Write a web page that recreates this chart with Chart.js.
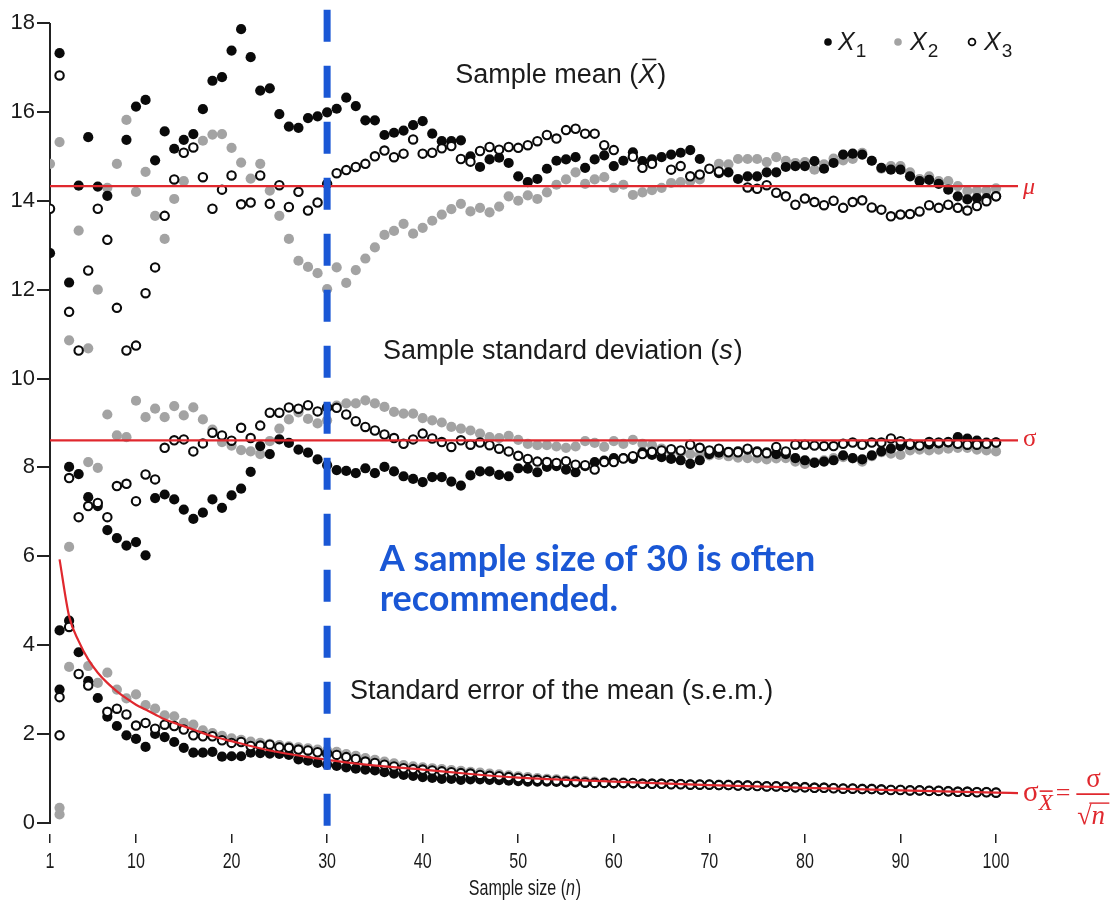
<!DOCTYPE html>
<html lang="en">
<head>
<meta charset="UTF-8">
<title>Sample mean, standard deviation and s.e.m. versus sample size</title>
<script src="https://cdn.jsdelivr.net/npm/chart.js@4.4.1/dist/chart.umd.min.js"></script>
<style>
  body { margin: 0; background: #fff; }
  canvas { display: block; }
</style>
</head>
<body>
<canvas id="chart" width="1116" height="904"></canvas>
<script>
// sample sizes on the x axis
const sampleSizes = Array.from({ length: 100 }, (_, i) => i + 1);
const xTickValues = [1, 10, 20, 30, 40, 50, 60, 70, 80, 90, 100];
const yTickValues = [0, 2, 4, 6, 8, 10, 12, 14, 16, 18];

// running sample mean for the three samples (null = marker hidden behind another)
const meanX1 = [
  12.82, 17.32, 12.16, 14.34, 15.43, 14.32, 14.11, null, 15.37, 16.12,
  16.27, 14.91, 15.56, 15.17, 15.37, 15.5, 16.06, 16.7, 16.78, 17.38,
  17.86, 17.23, 16.48, 16.53, 15.95, 15.67, 15.64, 15.86, 15.9, 15.99,
  16.07, 16.32, 16.13, 15.81, 15.81, 15.48, 15.53, 15.58, 15.7, 15.79,
  15.51, 15.34, 15.34, 15.36, 15.0, 14.76, 14.93, 14.97, 14.85, 14.55,
  14.42, 14.49, 14.72, 14.9, 14.93, 14.98, 14.74, 14.93, 15.02, 14.78,
  14.9, 15.09, 14.89, 14.93, 14.98, 15.04, 15.08, 15.14, 14.94, null,
  14.62, 14.64, 14.49, 14.55, 14.55, 14.64, 14.64, 14.76, 14.78, 14.78,
  14.89, 14.72, 14.85, 15.04, 15.06, 15.04, 14.9, 14.74, 14.7, 14.7,
  14.55, 14.44, 14.47, 14.38, 14.25, 14.1, 14.03, 14.06, 14.06, 14.1
];
const meanX2 = [
  14.83, 15.32, 10.86, 13.33, 10.68, 12.0, 14.29, 14.83, 15.82, 14.2,
  14.65, 13.66, 13.14, 14.04, 14.44, null, 15.35, 15.49, 15.5, 15.19,
  14.86, 14.5, 14.83, 14.23, 13.66, 13.14, 12.65, 12.51, 12.37, 12.01,
  12.5, 12.15, 12.44, 12.7, 12.95, 13.23, 13.32, 13.48, 13.26, 13.39,
  13.55, 13.69, 13.81, 13.93, 13.76, 13.84, 13.74, 13.87, 14.1, 14.0,
  14.12, 14.04, 14.19, 14.36, 14.48, 14.64, 14.38, 14.48, 14.53, 14.29,
  14.36, 14.13, 14.19, 14.24, 14.29, 14.4, 14.42, 14.44, 14.48, null,
  14.83, 14.82, 14.94, 14.94, 14.94, 14.87, 14.98, 14.9, 14.85, 14.87,
  14.7, 14.82, 14.95, 14.91, 14.94, 15.08, 14.9, 14.72, 14.78, 14.78,
  14.64, 14.49, 14.55, 14.44, 14.44, 14.33, 14.22, 14.23, 14.23, 14.28
];
const meanX3 = [
  13.82, 16.82, 11.5, 10.63, 12.43, 13.82, 13.12, 11.59, 10.63, 10.74,
  11.92, 12.5, 13.66, 14.48, 15.08, 15.2, 14.53, 13.82, 14.25, 14.57,
  13.92, 13.96, 14.57, 13.93, 14.35, 13.86, 14.2, 13.78, 13.96, 14.38,
  14.62, 14.69, 14.76, 14.83, 15.0, 15.13, 14.98, 15.06, 15.38, 15.06,
  15.08, 15.18, 15.23, 14.94, 14.88, 15.12, 15.21, 15.15, 15.21, 15.19,
  15.25, 15.34, 15.48, 15.4, 15.59, 15.62, 15.51, 15.51, 15.25, 15.14,
  null, 14.99, 14.74, 14.83, null, 14.7, 14.78, 14.55, 14.59, 14.72,
  14.66, null, null, 14.3, 14.27, 14.35, 14.18, 14.1, 13.91, 14.05,
  13.97, 13.9, 14.0, 13.84, 13.97, 14.01, 13.85, 13.8, 13.65, 13.69,
  13.7, 13.76, 13.9, 13.84, 13.91, 13.84, 13.78, 13.88, 13.99, 14.1
];

// running sample standard deviation
const sdX1 = [
  null, null, 8.01, 7.85, 7.33, 7.13, 6.59, 6.41, 6.24, 6.32,
  6.02, 7.31, 7.39, 7.28, 7.05, 6.84, 6.98, 7.28, 7.09, 7.37,
  7.52, 7.9, 8.48, 8.3, 8.63, 8.55, 8.4, 8.33, 8.18, 8.05,
  7.94, 7.92, 7.87, 7.98, 7.87, 8.01, 7.91, 7.8, 7.74, 7.67,
  7.78, 7.78, 7.68, 7.59, 7.82, 7.91, 7.91, 7.83, 7.8, 7.98,
  7.97, 7.89, 8.01, 8.03, 7.95, 7.89, 8.03, 8.12, 8.15, 8.21,
  8.21, 8.19, 8.34, 8.28, 8.23, 8.19, 8.16, 8.08, 8.16, 8.3,
  8.33, 8.35, 8.36, 8.4, 8.36, 8.34, 8.3, 8.3, 8.21, 8.16,
  8.1, 8.13, 8.16, 8.27, 8.21, 8.18, 8.27, 8.36, 8.42, 8.48,
  8.5, 8.5, 8.52, 8.54, 8.56, 8.68, 8.65, 8.6, 8.56, 8.56
];
const sdX2 = [
  null, null, 6.21, null, 8.12, 7.99, 9.19, 8.72, 8.68, 9.5,
  9.13, 9.32, 9.13, 9.38, 9.17, 9.35, 9.08, 8.85, 8.57, 8.49,
  8.39, 8.36, 8.3, 8.59, 8.87, 9.08, 9.24, 9.09, 8.99, 9.06,
  9.39, 9.44, 9.44, 9.51, 9.44, 9.36, 9.25, 9.21, 9.21, 9.11,
  9.06, 9.01, 8.91, 8.87, 8.83, 8.76, 8.68, 8.66, 8.71, 8.62,
  8.53, 8.5, 8.5, 8.47, 8.44, 8.47, 8.59, 8.55, 8.46, 8.59,
  8.53, 8.62, 8.53, 8.5, 8.42, 8.36, 8.33, 8.3, 8.28, 8.27,
  8.28, 8.25, 8.22, 8.21, 8.2, 8.18, 8.2, 8.21, 8.13, 8.08,
  8.12, 8.16, 8.21, 8.23, 8.2, 8.13, 8.25, 8.34, 8.31, 8.28,
  8.38, 8.4, 8.38, 8.4, 8.42, 8.44, 8.44, 8.4, 8.38, 8.36
];
const sdX3 = [
  null, null, 7.76, 6.88, 7.13, 7.2, 6.88, 7.58, 7.63, 7.24,
  7.84, 7.73, 8.44, 8.61, 8.63, 8.36, 8.54, 8.78, 8.72, 8.6,
  8.89, 8.66, 8.94, 9.23, 9.23, 9.35, 9.32, 9.4, 9.26, 9.35,
  9.34, 9.19, 9.04, 8.91, 8.83, 8.74, 8.66, 8.53, 8.63, 8.76,
  8.65, 8.57, 8.46, 8.61, 8.51, 8.56, 8.5, 8.42, 8.36, 8.26,
  8.19, 8.13, 8.12, 8.1, 8.14, 8.06, 8.05, 7.95, 8.12, 8.12,
  8.2, 8.25, 8.3, 8.35, 8.38, 8.41, 8.38, 8.51, 8.44, 8.38,
  8.42, 8.34, 8.34, 8.42, 8.34, 8.32, 8.46, 8.36, 8.51, 8.51,
  8.49, 8.48, 8.48, 8.53, 8.56, 8.51, 8.56, 8.56, 8.65, 8.59,
  8.53, 8.49, 8.57, 8.56, 8.57, 8.53, 8.51, 8.51, 8.53, 8.56
];

// running standard error of the mean
const semX1 = [
  null, 4.33, 4.55, 3.84, 3.19, 2.81, 2.39, 2.18, 1.97, 1.89,
  1.71, 2.0, 1.93, 1.82, 1.69, 1.58, 1.58, 1.6, 1.49, 1.5,
  1.5, 1.58, 1.57, 1.56, 1.55, 1.53, 1.43, 1.4, 1.35, 1.31,
  1.28, 1.25, 1.22, 1.2, 1.18, 1.14, 1.11, 1.08, 1.06, 1.03,
  1.01, 0.99, 0.99, 0.97, 0.98, 0.98, 0.97, 0.96, 0.95, 0.94,
  0.93, 0.93, 0.93, 0.92, 0.91, 0.91, 0.9, 0.9, 0.9, 0.89,
  0.89, 0.89, 0.88, 0.88, 0.88, 0.87, 0.87, 0.86, 0.86, 0.86,
  0.85, 0.85, 0.84, 0.84, 0.83, 0.82, 0.82, 0.81, 0.8, 0.8,
  0.79, 0.79, 0.78, 0.77, 0.77, 0.76, 0.76, 0.75, 0.74, 0.74,
  0.73, 0.73, 0.72, 0.72, 0.71, 0.7, 0.7, 0.69, 0.69, 0.68
];
const semX2 = [
  null, 0.34, 3.51, null, 3.53, 3.15, 3.38, 3.0, 2.8, 2.89,
  2.65, 2.57, 2.42, 2.4, 2.25, 2.21, 2.08, 2.02, 1.96, 1.9,
  1.87, 1.83, 1.8, 1.78, 1.75, 1.72, 1.7, 1.68, 1.65, 1.63,
  1.6, 1.55, 1.51, 1.46, 1.42, 1.38, 1.34, 1.3, 1.27, 1.25,
  1.23, 1.21, 1.19, 1.17, 1.15, 1.13, 1.11, 1.09, 1.07, 1.05,
  1.03, 1.01, 0.99, 0.98, 0.96, 0.95, 0.94, 0.93, 0.92, 0.91,
  0.91, 0.9, 0.89, 0.89, 0.89, 0.88, 0.88, 0.87, 0.87, 0.87,
  0.86, 0.86, 0.85, 0.85, 0.84, 0.83, 0.83, 0.82, 0.81, 0.81,
  0.8, 0.8, 0.79, 0.78, 0.78, 0.77, 0.77, 0.76, 0.75, 0.75,
  0.74, 0.74, 0.73, 0.73, 0.72, 0.71, 0.71, 0.7, 0.7, 0.69
];
const semX3 = [
  null, 2.83, 4.41, 3.35, 3.09, null, 2.5, 2.57, 2.44, 2.19,
  2.25, 2.12, 2.21, 2.18, 2.1, 1.97, 1.95, 1.95, 1.86, 1.8,
  1.82, 1.73, 1.74, 1.76, 1.7, 1.69, 1.65, 1.63, 1.59, 1.56,
  1.53, 1.48, 1.44, 1.38, 1.35, 1.31, 1.27, 1.23, 1.21, 1.2,
  1.18, 1.16, 1.14, 1.12, 1.11, 1.08, 1.06, 1.05, 1.03, 1.01,
  0.99, 0.97, 0.96, 0.95, 0.93, 0.93, 0.91, 0.9, 0.9, 0.9,
  0.9, 0.9, 0.88, 0.88, 0.88, 0.87, 0.87, 0.86, 0.86, 0.86,
  0.85, 0.85, 0.84, 0.84, 0.83, 0.82, 0.82, 0.81, 0.8, 0.8,
  0.79, 0.79, 0.78, 0.77, 0.77, 0.76, 0.76, 0.75, 0.74, 0.74,
  0.73, 0.73, 0.72, 0.72, 0.71, 0.7, 0.7, 0.69, 0.69, 0.68
];
// second s.e.m. marker plotted at n = 2 (X1, X2, X3)
const semExtraN2 = [3.0, 0.19, 1.97];

// population values and the sigma / sqrt(n) reference curve
const muLevel = 14.33;
const sigmaLevel = 8.61;
const semCurveN = [2, 3, 4, 5, 6, 7, 8, 9, 10, 11, 12, 13, 14, 16, 18, 20, 22, 24, 26, 28, 30, 32, 36, 40, 45, 50, 60, 70, 80, 90, 100, 102.3];
const semCurveY = [5.93, 4.65, 4.09, 3.68, 3.38, 3.15, 2.96, 2.8, 2.66, 2.55, 2.44, 2.33, 2.25, 2.1, 1.95, 1.84, 1.73, 1.63, 1.55, 1.48, 1.42, 1.36, 1.27, 1.2, 1.1, 1.02, 0.93, 0.85, 0.79, 0.73, 0.68, 0.67];
const markedSampleSize = 30;

const xMax = 102.3;
const red = '#e0282e';
const blue = '#1a57d5';
const ink = '#1b1b1b';
const fontSans = '"Liberation Sans", Arial, Helvetica, sans-serif';
const fontSerif = '"Liberation Serif", "DejaVu Serif", "Times New Roman", serif';
const fontBlue = 'Lato, "Open Sans", sans-serif';
const narrow = 0.73; // horizontal squeeze for the condensed x-axis lettering

function toPoints(values) {
  const pts = [];
  values.forEach((v, i) => { if (v !== null) pts.push({ x: sampleSizes[i], y: v }); });
  return pts;
}

function seriesPoints(mean, sd, sem, extra) {
  return [...toPoints(mean), ...toPoints(sd), ...toPoints(sem), { x: 2, y: extra }];
}

// writes a row of differently styled text pieces, left to right
function runText(ctx, x, y, parts) {
  ctx.textBaseline = 'alphabetic';
  ctx.textAlign = 'left';
  parts.forEach(p => {
    ctx.font = p.font;
    ctx.fillStyle = p.color;
    const yy = y + (p.dy || 0);
    ctx.fillText(p.text, x, yy);
    const w = ctx.measureText(p.text).width;
    if (p.bar) {
      ctx.strokeStyle = p.color;
      ctx.lineWidth = p.barWidth || 1.6;
      ctx.beginPath();
      ctx.moveTo(x + p.bar[0], yy - p.bar[2]);
      ctx.lineTo(x + w + p.bar[1], yy - p.bar[2]);
      ctx.stroke();
    }
    x += w + (p.after || 0);
  });
  return x;
}

// condensed text: squeeze horizontally around a centre x
function narrowText(ctx, cx, y, parts) {
  ctx.save();
  ctx.translate(cx, y);
  ctx.scale(narrow, 1);
  let w = 0;
  parts.forEach(p => { ctx.font = p.font; w += ctx.measureText(p.text).width + (p.after || 0); });
  runText(ctx, -w / 2, 0, parts);
  ctx.restore();
}

const decorations = {
  id: 'decorations',
  beforeDatasetsDraw(chart) {
    const { ctx, scales: { y }, chartArea } = chart;
    // left axis line, from 0 up to 18
    ctx.save();
    ctx.strokeStyle = '#222';
    ctx.lineWidth = 2;
    ctx.beginPath();
    ctx.moveTo(chartArea.left, y.getPixelForValue(18));
    ctx.lineTo(chartArea.left, y.getPixelForValue(0) + 1);
    ctx.stroke();
    ctx.restore();
  },
  afterDraw(chart) {
    const { ctx, scales: { x, y }, chartArea } = chart;
    const px = v => x.getPixelForValue(v);
    const py = v => y.getPixelForValue(v);
    ctx.save();

    // panel captions
    const cap = `27px ${fontSans}`;
    const capItalic = `italic 27px ${fontSans}`;
    runText(ctx, px(43.4), py(16.64), [
      { text: 'Sample mean (', font: cap, color: ink },
      { text: 'X', font: capItalic, color: ink, bar: [4, 0, 24], after: 1 },
      { text: ')', font: cap, color: ink }
    ]);
    runText(ctx, px(35.85), py(10.44), [
      { text: 'Sample standard deviation (', font: cap, color: ink },
      { text: 's', font: capItalic, color: ink, after: 1 },
      { text: ')', font: cap, color: ink }
    ]);
    runText(ctx, px(32.4), py(2.78), [
      { text: 'Standard error of the mean (s.e.m.)', font: cap, color: ink }
    ]);

    // note next to the n = 30 marker
    runText(ctx, px(35.5), py(5.67), [
      { text: 'A sample size of 30 is often', font: `bold 36px ${fontBlue}`, color: blue }
    ]);
    runText(ctx, px(35.5), py(4.77), [
      { text: 'recommended.', font: `bold 36px ${fontBlue}`, color: blue }
    ]);

    // x tick labels and axis title in condensed lettering
    xTickValues.forEach(v => {
      narrowText(ctx, px(v), 868, [{ text: String(v), font: `22px ${fontSans}`, color: ink }]);
    });
    narrowText(ctx, px(50.7), 895, [
      { text: 'Sample size (', font: `22px ${fontSans}`, color: ink },
      { text: 'n', font: `italic 22px ${fontSans}`, color: ink, after: 1 },
      { text: ')', font: `22px ${fontSans}`, color: ink }
    ]);

    // population labels at the right end of the red lines
    const rx = chartArea.right + 5;
    runText(ctx, rx, py(muLevel) + 8, [
      { text: 'μ', font: `italic 24px ${fontSerif}`, color: red }
    ]);
    runText(ctx, rx, py(sigmaLevel) + 6, [
      { text: 'σ', font: `25px ${fontSerif}`, color: red }
    ]);
    const fy = py(semCurveY[semCurveY.length - 1]) + 8;
    const cx = runText(ctx, rx, fy, [
      { text: 'σ', font: `29px ${fontSerif}`, color: red },
      { text: 'X', font: `italic 23px ${fontSerif}`, color: red, dy: 9, bar: [1, 0, 19], after: 3 },
      { text: '=', font: `26px ${fontSerif}`, color: red, after: 6 }
    ]);
    ctx.strokeStyle = red;
    ctx.lineWidth = 1.6;
    ctx.beginPath();
    ctx.moveTo(cx, fy - 7);
    ctx.lineTo(cx + 33, fy - 7);
    ctx.stroke();
    runText(ctx, cx + 10, fy - 14, [
      { text: 'σ', font: `27px ${fontSerif}`, color: red }
    ]);
    runText(ctx, cx + 1, fy + 23, [
      { text: '√', font: `26px ${fontSerif}`, color: red },
      { text: 'n', font: `italic 27px ${fontSerif}`, color: red }
    ]);
    ctx.lineWidth = 1.4;
    ctx.beginPath();
    ctx.moveTo(cx + 13, fy + 2);
    ctx.lineTo(cx + 33, fy + 2);
    ctx.stroke();

    // legend
    const lx = chartArea.right;
    const ly = 42;
    const legendParts = k => [
      { text: 'X', font: `italic 25px ${fontSans}`, color: ink, after: 1 },
      { text: k, font: `19px ${fontSans}`, color: ink, dy: 7 }
    ];
    ctx.fillStyle = '#0a0a0a';
    ctx.beginPath(); ctx.arc(lx - 190, ly, 3.8, 0, Math.PI * 2); ctx.fill();
    runText(ctx, lx - 180, ly + 8, legendParts('1'));
    ctx.fillStyle = '#a3a3a3';
    ctx.beginPath(); ctx.arc(lx - 120, ly, 3.8, 0, Math.PI * 2); ctx.fill();
    runText(ctx, lx - 108, ly + 8, legendParts('2'));
    ctx.strokeStyle = '#0a0a0a';
    ctx.lineWidth = 1.8;
    ctx.beginPath(); ctx.arc(lx - 46, ly, 3.4, 0, Math.PI * 2); ctx.stroke();
    runText(ctx, lx - 34, ly + 8, legendParts('3'));
    ctx.restore();
  }
};

const ctx = document.getElementById('chart').getContext('2d');
new Chart(ctx, {
  type: 'scatter',
  data: {
    datasets: [
      {
        label: 'n = 30',
        data: [{ x: markedSampleSize, y: 18.3 }, { x: markedSampleSize, y: -0.22 }],
        showLine: true,
        borderColor: blue,
        borderWidth: 7,
        borderDash: [32, 24],
        pointRadius: 0,
        clip: false,
        order: 0
      },
      {
        label: 'mu',
        data: [{ x: 1, y: muLevel }, { x: xMax, y: muLevel }],
        showLine: true, borderColor: red, borderWidth: 2.2, pointRadius: 0, order: 1
      },
      {
        label: 'sigma',
        data: [{ x: 1, y: sigmaLevel }, { x: xMax, y: sigmaLevel }],
        showLine: true, borderColor: red, borderWidth: 2.2, pointRadius: 0, order: 1
      },
      {
        label: 'sigma / sqrt(n)',
        data: semCurveN.map((n, i) => ({ x: n, y: semCurveY[i] })),
        showLine: true, borderColor: red, borderWidth: 2.2, pointRadius: 0,
        cubicInterpolationMode: 'monotone', order: 1
      },
      {
        label: 'X3',
        data: seriesPoints(meanX3, sdX3, semX3, semExtraN2[2]),
        pointRadius: 4.2, pointBorderWidth: 2.1,
        pointBackgroundColor: '#ffffff', pointBorderColor: '#0a0a0a', order: 2
      },
      {
        label: 'X1',
        data: seriesPoints(meanX1, sdX1, semX1, semExtraN2[0]),
        pointRadius: 5.1, pointBorderWidth: 0,
        pointBackgroundColor: '#0a0a0a', pointBorderColor: '#0a0a0a', order: 3
      },
      {
        label: 'X2',
        data: seriesPoints(meanX2, sdX2, semX2, semExtraN2[1]),
        pointRadius: 5.1, pointBorderWidth: 0,
        pointBackgroundColor: '#a3a3a3', pointBorderColor: '#a3a3a3', order: 4
      }
    ]
  },
  options: {
    responsive: false,
    animation: false,
    events: [],
    layout: { padding: { top: 23, right: 98, bottom: 0, left: 0 } },
    plugins: { legend: { display: false }, tooltip: { enabled: false } },
    scales: {
      x: {
        type: 'linear',
        min: 1,
        max: xMax,
        afterBuildTicks: s => { s.ticks = xTickValues.map(v => ({ value: v })); },
        afterFit: s => { s.height = 70; },
        border: { display: false },
        grid: { drawOnChartArea: false, drawTicks: true, tickLength: 9, color: '#222', lineWidth: 1.5 },
        // labels are drawn condensed by the decorations plugin
        ticks: { autoSkip: false, maxRotation: 0, color: 'rgba(0,0,0,0)', font: { size: 19 } }
      },
      y: {
        min: -0.25,
        max: 18,
        afterBuildTicks: s => { s.ticks = yTickValues.map(v => ({ value: v })); },
        afterFit: s => { s.width = 50; },
        border: { display: false },
        grid: { drawOnChartArea: false, drawTicks: true, tickLength: 13, color: '#222', lineWidth: 2 },
        ticks: {
          padding: 2, color: ink,
          font: { family: fontSans, size: 22 }
        }
      }
    }
  },
  plugins: [decorations]
});
</script>
</body>
</html>
